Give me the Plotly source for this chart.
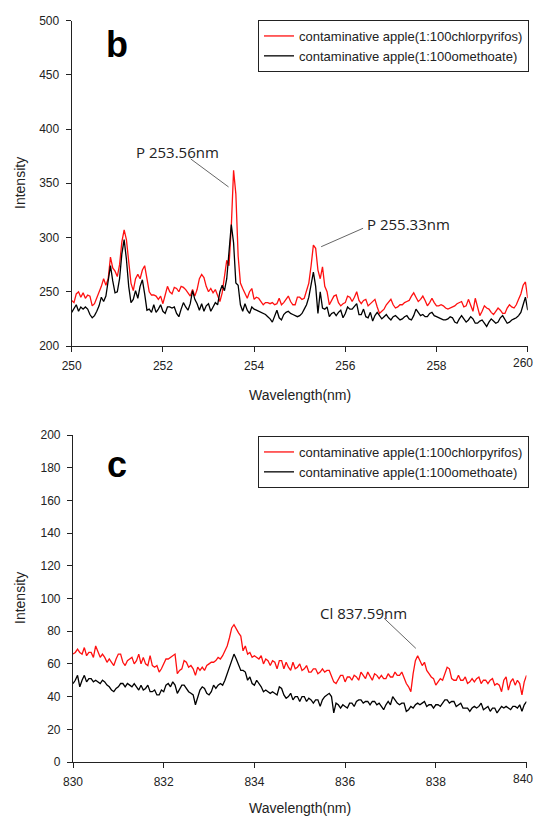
import numpy as np
import plotly.graph_objects as go

# ---------------- data ----------------
# panel b: 250-260 nm, 0.05 nm steps
b_start, b_step = 250.0, 0.05
b_chlorpyrifos = [
    242, 240, 248, 250, 245, 249, 244, 247, 246, 237, 239, 244, 249, 255, 262, 256, 262, 282, 272, 269,
    264, 275, 296, 307, 298, 280, 258, 251, 262, 266, 262, 270, 274, 262, 250, 247, 247, 246, 243, 246,
    239, 247, 255, 250, 248, 254, 253, 250, 255, 254, 252, 249, 246, 252, 246, 252, 262, 266, 263, 255,
    250, 253, 249, 252, 247, 241, 249, 262, 279, 274, 310, 362, 340, 283, 258, 253, 248, 244, 250, 253,
    243, 245, 244, 241, 238, 240, 240, 239, 240, 238, 239, 244, 238, 240, 243, 246, 241, 238, 238, 245,
    245, 243, 244, 250, 258, 274, 293, 290, 270, 262, 273, 255, 250, 238, 242, 246, 247, 240, 237, 239,
    240, 246, 245, 241, 245, 250, 242, 239, 242, 243, 237, 239, 241, 243, 236, 230, 232, 234, 238, 241,
    243, 238, 235, 236, 238, 238, 240, 241, 242, 246, 249, 245, 241, 243, 246, 242, 237, 240, 244, 240,
    237, 237, 238, 237, 235, 234, 235, 236, 237, 239, 240, 241, 236, 237, 243, 237, 232, 244, 236, 228,
    232, 237, 235, 234, 231, 229, 232, 235, 233, 230, 230, 235, 238, 236, 235, 238, 243, 248, 256, 259,
    244,
]
b_omethoate = [
    231, 234, 238, 232, 236, 234, 236, 234, 229, 226, 228, 232, 237, 245, 241, 246, 262, 274, 260, 249,
    250, 262, 285, 298, 280, 255, 240, 243, 251, 244, 255, 261, 248, 233, 234, 231, 238, 231, 234, 238,
    232, 230, 236, 236, 235, 236, 230, 227, 234, 240, 236, 233, 239, 251, 243, 239, 233, 239, 232, 237,
    239, 232, 236, 240, 238, 250, 256, 251, 262, 285, 312, 295, 258, 256, 238, 232, 239, 233, 230, 236,
    234, 233, 232, 231, 230, 229, 227, 225, 222, 228, 233, 226, 224, 229, 231, 232, 230, 229, 228, 227,
    228, 230, 234, 238, 245, 258, 268, 255, 230, 250, 235, 234, 236, 227, 230, 231, 228, 231, 233, 226,
    230, 236, 234, 234, 237, 239, 229, 229, 234, 227, 226, 231, 223, 228, 231, 228, 225, 227, 229, 226,
    224, 227, 228, 226, 224, 225, 227, 228, 225, 224, 228, 234, 231, 228, 229, 227, 227, 230, 231, 228,
    227, 226, 225, 224, 224, 225, 227, 226, 222, 221, 225, 228, 225, 222, 224, 227, 225, 221, 221, 223,
    224, 221, 218, 222, 225, 223, 221, 222, 226, 228, 224, 221, 222, 224, 225, 226, 228, 231, 238, 245,
    233,
]

# panel c: 830-840 nm, 0.05 nm steps
c_start, c_step = 830.0, 0.05
c_chlorpyrifos = [
    66, 67, 69, 67, 66, 70, 65, 67, 67, 64, 71, 68, 64, 66, 64, 61, 63, 61, 59, 63,
    66, 66, 61, 59, 62, 63, 64, 60, 62, 66, 60, 64, 60, 59, 65, 59, 58, 59, 55, 57,
    60, 63, 63, 64, 65, 66, 54, 56, 57, 62, 61, 58, 59, 57, 53, 58, 56, 58, 56, 59,
    60, 61, 61, 62, 64, 63, 65, 68, 71, 76, 82, 84, 81, 79, 77, 68, 71, 66, 67, 64,
    65, 64, 63, 65, 60, 63, 62, 59, 62, 61, 57, 62, 62, 57, 61, 58, 56, 61, 57, 58,
    60, 56, 57, 59, 55, 55, 57, 57, 54, 55, 57, 55, 56, 56, 53, 49, 48, 51, 53, 53,
    49, 52, 52, 50, 53, 52, 50, 55, 53, 51, 55, 52, 50, 54, 53, 51, 53, 51, 51, 54,
    52, 52, 55, 53, 53, 55, 51, 48, 46, 43, 54, 62, 65, 62, 59, 61, 56, 54, 52, 51,
    47, 49, 51, 50, 54, 58, 57, 51, 50, 50, 53, 50, 50, 52, 48, 49, 51, 49, 51, 52,
    48, 50, 50, 48, 50, 51, 47, 48, 47, 43, 50, 52, 44, 49, 51, 47, 50, 48, 41, 49,
    53,
]
c_omethoate = [
    48, 50, 53, 46, 50, 53, 49, 51, 51, 49, 50, 49, 48, 50, 49, 47, 46, 44, 43, 45,
    46, 48, 48, 46, 48, 47, 46, 48, 46, 44, 47, 44, 45, 47, 43, 43, 44, 41, 41, 44,
    43, 47, 48, 46, 49, 47, 42, 45, 47, 47, 45, 43, 42, 41, 35, 40, 44, 46, 45, 42,
    41, 43, 47, 45, 47, 48, 47, 50, 54, 58, 63, 66, 63, 60, 56, 56, 55, 50, 52, 48,
    47, 50, 48, 46, 43, 44, 43, 42, 43, 42, 41, 46, 45, 41, 39, 40, 42, 38, 40, 40,
    37, 40, 40, 37, 39, 38, 36, 38, 38, 34, 38, 40, 41, 42, 40, 30, 36, 35, 33, 35,
    34, 33, 36, 36, 34, 37, 38, 38, 36, 37, 37, 35, 37, 37, 35, 36, 34, 32, 35, 37,
    35, 40, 38, 36, 35, 36, 36, 31, 32, 34, 33, 35, 36, 35, 36, 37, 34, 35, 35, 33,
    35, 35, 34, 36, 38, 38, 36, 37, 37, 34, 35, 36, 33, 33, 33, 31, 33, 34, 33, 34,
    36, 32, 33, 34, 31, 33, 33, 30, 32, 34, 33, 34, 33, 32, 34, 34, 33, 35, 31, 35,
    37,
]

legend_names = ["contaminative apple(1:100chlorpyrifos)", "contaminative apple(1:100omethoate)"]
b_xticks = [250, 252, 254, 256, 258, 260]
b_yticks = [200, 250, 300, 350, 400, 450, 500]
c_xticks = [830, 832, 834, 836, 838, 840]
c_yticks = [0, 20, 40, 60, 80, 100, 120, 140, 160, 180, 200]

bx = np.round(b_start + b_step * np.arange(len(b_chlorpyrifos)), 3)
cx = np.round(c_start + c_step * np.arange(len(c_chlorpyrifos)), 3)

W, H = 535, 817
def px(x):
    return x / W
def py(y):
    return 1 - y / H

FONT = "Liberation Sans, Arial, sans-serif"
TICKFONT = dict(family=FONT, size=12, color="#222")
RED = "#ff1010"
fig = go.Figure()
fig.add_trace(go.Scatter(x=bx, y=b_chlorpyrifos, mode="lines", name=legend_names[0],
                         line=dict(color=RED, width=1.3), xaxis="x", yaxis="y", legend="legend"))
fig.add_trace(go.Scatter(x=bx, y=b_omethoate, mode="lines", name=legend_names[1],
                         line=dict(color="#000000", width=1.3), xaxis="x", yaxis="y", legend="legend"))
fig.add_trace(go.Scatter(x=cx, y=c_chlorpyrifos, mode="lines", name=legend_names[0],
                         line=dict(color=RED, width=1.3), xaxis="x2", yaxis="y2", legend="legend2"))
fig.add_trace(go.Scatter(x=cx, y=c_omethoate, mode="lines", name=legend_names[1],
                         line=dict(color="#000000", width=1.3), xaxis="x2", yaxis="y2", legend="legend2"))

axis_common = dict(showline=True, linecolor="#222", linewidth=1.2, ticks="outside", ticklen=5,
                   tickwidth=1.2, tickcolor="#222", showgrid=False, zeroline=False, automargin=False,
                   ticklabeloverflow="allow", tickfont=TICKFONT)

leg_common = dict(xanchor="left", yanchor="top", bgcolor="white", bordercolor="#222", borderwidth=1,
                  font=dict(family=FONT, size=13, color="#222"), itemwidth=30, tracegroupgap=0)

# the last x tick label of each panel sits at the right page edge; it is drawn
# right-aligned to the edge so that it stays whole
b_xtext = [str(v) for v in b_xticks[:-1]] + [""]
c_xtext = [str(v) for v in c_xticks[:-1]] + [""]

fig.update_layout(
    template="none",
    width=W, height=H, margin=dict(l=0, r=0, t=0, b=0, pad=0), autosize=False,
    paper_bgcolor="white", plot_bgcolor="white",
    xaxis=dict(domain=[px(71.7), px(527.7)], range=[250, 260], tickvals=b_xticks, ticktext=b_xtext,
               anchor="y", ticklabelstandoff=3, **axis_common),
    yaxis=dict(domain=[py(346), py(20.5)], range=[200, 500], tickvals=b_yticks, anchor="x",
               ticklabelstandoff=4, **axis_common),
    xaxis2=dict(domain=[px(73), px(526.5)], range=[830, 840], tickvals=c_xticks, ticktext=c_xtext,
                anchor="y2", ticklabelstandoff=3, **axis_common),
    yaxis2=dict(domain=[py(762), py(435)], range=[0, 200], tickvals=c_yticks, anchor="x2",
                ticklabelstandoff=4, **axis_common),
    legend=dict(x=px(258), y=py(20), **leg_common),
    legend2=dict(x=px(258), y=py(436), **leg_common),
    showlegend=True,
)

anns = []
# last tick labels, right-aligned at the page edge
anns.append(dict(x=1, y=b_yticks[0], xref="paper", yref="y", text=str(b_xticks[-1]), showarrow=False,
                 xanchor="right", yanchor="top", yshift=-8, font=TICKFONT))
anns.append(dict(x=1, y=c_yticks[0], xref="paper", yref="y2", text=str(c_xticks[-1]), showarrow=False,
                 xanchor="right", yanchor="top", yshift=-8, font=TICKFONT))
# axis titles
for (x, y, t, ang) in [(300, 395, "Wavelength(nm)", 0), (300, 808, "Wavelength(nm)", 0),
                        (20, 183, "Intensity", -90), (20, 598, "Intensity", -90)]:
    anns.append(dict(x=px(x), y=py(y), xref="paper", yref="paper", text=t, showarrow=False,
                     textangle=ang, font=dict(family=FONT, size=14, color="#222"),
                     xanchor="center", yanchor="middle"))
# panel letters
anns.append(dict(x=px(117), y=py(44), xref="paper", yref="paper", text="<b>b</b>", showarrow=False,
                 font=dict(family=FONT, size=36, color="#000"), xanchor="center", yanchor="middle"))
anns.append(dict(x=px(117), y=py(464), xref="paper", yref="paper", text="<b>c</b>", showarrow=False,
                 font=dict(family=FONT, size=36, color="#000"), xanchor="center", yanchor="middle"))
# peak labels
LBL = dict(family="Open Sans, sans-serif", size=15, color="#222")
anns.append(dict(x=252.33, y=379.1, xref="x", yref="y", text="P 253.56nm", showarrow=False, font=LBL))
anns.append(dict(x=257.39, y=312.5, xref="x", yref="y", text="P 255.33nm", showarrow=False, font=LBL))
anns.append(dict(x=836.41, y=91.3, xref="x2", yref="y2", text="Cl 837.59nm", showarrow=False, font=LBL))
fig.update_layout(annotations=anns)

shapes = [
    dict(type="line", xref="x", yref="y", x0=252.61, y0=372.4, x1=253.44, y1=346.6,
         line=dict(color="#666", width=1)),
    dict(type="line", xref="x", yref="y", x0=256.39, y0=308.5, x1=255.47, y1=291.5,
         line=dict(color="#666", width=1)),
    dict(type="line", xref="x2", yref="y2", x0=836.86, y0=87.9, x1=837.56, y1=69.5,
         line=dict(color="#666", width=1)),
]
fig.update_layout(shapes=shapes)

fig.write_html("out.html")
